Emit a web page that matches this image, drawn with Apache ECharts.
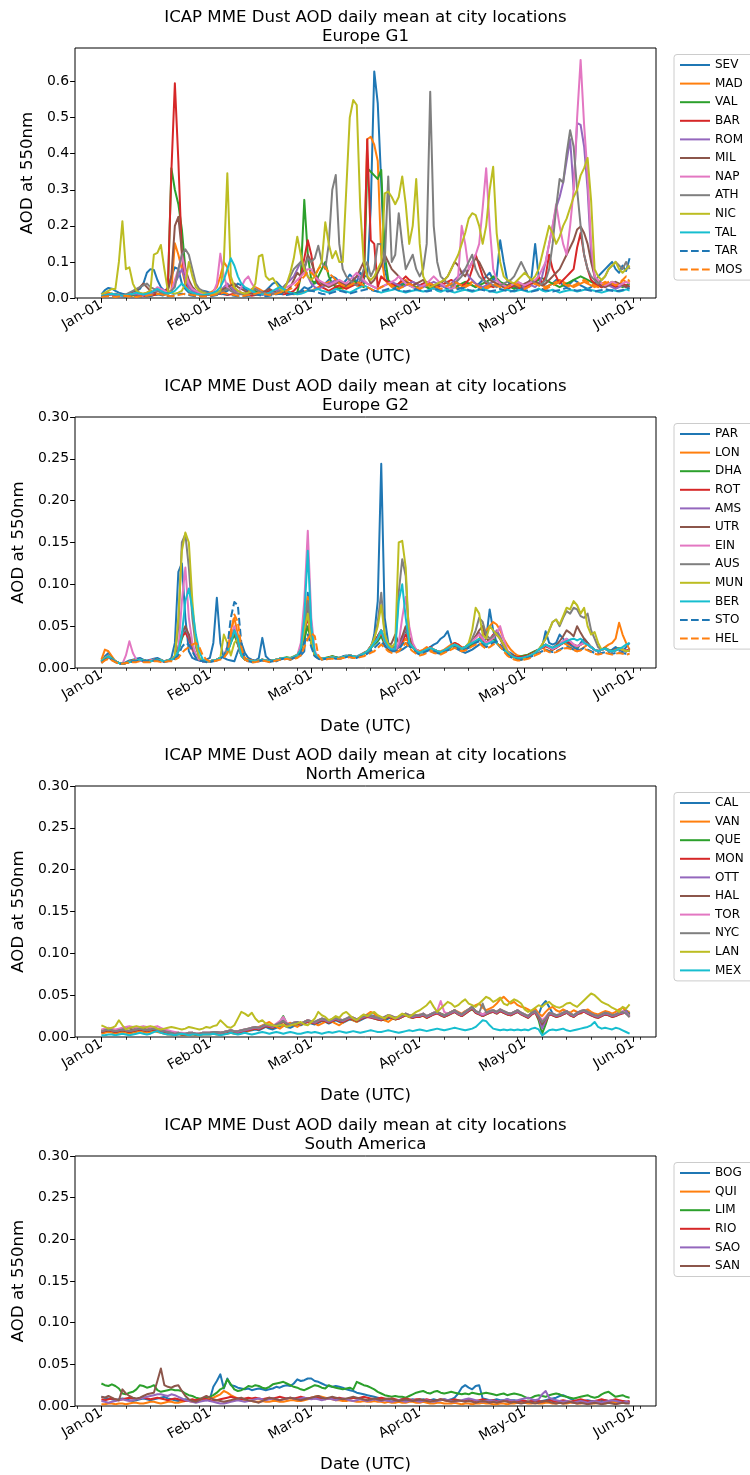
<!DOCTYPE html>
<html><head><meta charset="utf-8">
<script src="https://cdn.jsdelivr.net/npm/echarts@6/dist/echarts.min.js"></script>
<style>html,body{margin:0;padding:0;background:#fff}#c{width:750px;height:1475px}</style>
</head><body><div id="c"></div>
<script>
// x = day offset from 2024-01-01 (0 = Jan-01 ... 151 = May-31)
const monthStarts = [0, 31, 60, 91, 121, 152];
const monthLabels = ['Jan-01', 'Feb-01', 'Mar-01', 'Apr-01', 'May-01', 'Jun-01'];
const weekTicks = [-7, 0, 7, 14, 21, 28, 35, 42, 49, 56, 63, 70, 77, 84, 91, 98, 105, 112, 119, 126, 133, 140, 147, 154];
const yTicksG1 = [0, 0.1, 0.2, 0.3, 0.4, 0.5, 0.6];
const yTicksLow = [0, 0.05, 0.1, 0.15, 0.2, 0.25, 0.3];
const titleMain = 'ICAP MME Dust AOD daily mean at city locations';
const subtitles = ['Europe G1', 'Europe G2', 'North America', 'South America'];

// ---- Europe G1: AOD x 1000, one value per day (Jan..May) ----
const SEV = [10,22,28,26,20,15,12,10,12,15,20,25,40,70,80,78,50,30,20,25,60,85,80,40,25,15,12,10,15,20,18,
15,12,10,12,15,20,25,30,40,35,25,20,15,12,10,15,20,30,40,45,35,25,20,15,12,15,20,30,25,
30,45,40,35,40,50,60,55,45,40,50,65,55,45,70,60,60,250,628,540,320,80,40,35,30,35,40,45,40,35,30,
35,40,30,25,30,35,40,30,25,30,35,30,25,30,40,35,30,40,50,60,70,50,60,160,100,50,35,30,25,30,
35,40,60,150,60,40,30,35,40,50,45,35,30,40,50,45,35,30,25,30,40,60,70,80,90,100,80,70,90,75,110];
const MAD = [5,10,15,12,10,8,6,5,5,6,8,10,12,15,20,15,12,10,8,10,20,152,120,80,40,20,15,10,8,10,12,
15,20,30,60,100,85,40,25,20,15,12,18,25,30,25,20,15,12,10,12,15,18,15,12,10,12,15,18,20,
20,25,30,35,40,45,40,35,30,25,30,35,40,35,30,60,440,447,425,380,120,50,40,30,35,40,45,50,40,35,30,
30,35,40,30,25,30,35,40,45,35,30,25,30,35,40,45,40,35,30,25,30,35,40,35,30,25,30,35,40,35,
30,35,40,45,40,35,30,35,40,45,50,45,40,35,30,35,40,45,40,35,30,35,40,45,40,35,30,35,50,45,40];
const VAL = [5,8,10,12,10,8,6,5,6,8,10,12,10,8,6,8,10,12,15,20,360,300,260,190,80,40,30,20,15,12,10,
10,12,15,20,25,30,25,20,15,12,10,12,15,20,18,15,12,10,12,15,20,25,20,15,12,15,60,272,120,
50,40,60,80,100,60,40,30,25,30,35,40,50,40,35,30,360,350,340,330,355,120,50,40,35,30,35,40,35,30,30,
30,35,30,25,30,35,40,35,30,25,30,35,40,45,40,35,30,35,40,45,50,60,55,45,40,35,30,25,30,35,
30,35,40,45,50,55,50,45,40,35,30,35,40,45,50,55,60,55,50,45,40,35,30,35,40,45,40,35,30,35,40];
const BAR = [5,8,10,8,6,5,6,8,10,12,10,8,6,5,6,8,10,12,15,30,350,595,380,120,40,30,20,15,12,10,8,
10,12,15,12,10,8,10,12,15,12,10,8,6,8,10,12,15,20,18,15,12,10,12,15,20,30,60,110,160,
120,60,40,30,25,20,25,30,35,30,25,30,35,40,35,60,440,160,150,30,60,50,45,40,35,40,50,60,50,45,40,
35,40,45,40,35,30,35,40,45,50,45,40,35,40,50,80,120,90,60,40,35,30,35,40,30,25,30,35,30,25,
30,35,40,45,60,40,60,120,80,60,40,50,60,70,80,140,180,120,80,50,40,35,30,35,40,35,30,35,40,35,30];
const ROM = [5,6,8,10,8,6,5,6,8,10,12,10,8,10,12,15,20,25,20,15,20,40,60,80,50,30,20,15,12,10,8,
10,12,15,20,30,40,30,20,15,12,10,12,15,12,10,8,10,12,15,20,25,30,40,50,60,80,100,90,60,
40,30,25,30,35,40,45,50,45,40,35,40,50,60,50,45,40,35,30,25,30,35,40,45,40,35,30,35,40,45,40,
35,30,35,40,45,40,35,30,35,40,50,60,70,80,60,50,40,35,30,35,40,45,50,40,35,30,35,40,45,40,
25,30,35,30,40,60,100,150,200,250,280,320,380,440,300,485,480,420,300,120,60,40,35,30,35,30,25,30,35,30,25];
const MIL = [5,6,8,10,8,6,5,8,12,15,20,30,40,30,20,15,12,10,15,20,60,200,225,130,80,50,30,20,15,12,10,
10,12,15,20,25,30,35,40,30,25,20,15,12,10,12,15,20,25,20,15,12,15,20,30,50,70,60,80,120,
100,70,50,40,35,30,35,40,45,40,35,40,50,60,80,100,60,40,50,70,90,120,100,80,70,60,50,45,40,35,40,
45,50,40,35,30,35,40,50,60,80,100,90,70,60,80,100,110,100,80,60,50,45,40,35,30,35,40,35,30,35,
40,45,50,45,40,35,40,50,60,70,80,100,120,140,160,190,198,180,150,100,60,40,35,30,35,40,45,40,35,30,35];
const NAP = [5,8,10,8,6,5,6,8,10,12,15,12,10,12,15,20,30,25,20,15,20,50,80,120,70,40,25,20,15,12,10,
12,15,40,123,60,30,20,15,12,30,50,60,40,25,20,15,12,10,12,15,20,25,30,35,40,50,60,70,80,
80,60,50,45,40,35,40,45,50,45,40,50,60,70,60,50,40,35,30,25,30,35,40,45,50,60,50,40,35,30,25,
30,35,40,50,60,50,40,35,30,25,30,60,200,150,80,100,120,150,250,360,200,80,50,40,35,30,35,40,45,40,
35,40,45,50,60,80,100,150,200,260,200,150,120,200,300,500,660,480,340,150,60,50,40,35,40,45,40,35,40,45,40];
const ATH = [5,6,8,10,12,10,8,10,15,20,25,30,35,40,30,25,20,15,12,15,20,30,80,120,135,120,80,40,25,20,15,
12,10,12,15,20,25,20,15,12,10,12,15,20,25,20,15,12,10,12,15,20,30,40,60,80,90,100,80,110,
100,110,145,100,80,150,300,341,150,80,60,50,40,35,50,80,100,60,80,150,150,100,337,100,120,235,150,80,100,120,80,
60,80,150,572,200,100,60,50,40,35,40,50,60,80,100,120,80,60,50,45,40,35,30,35,40,45,50,60,80,100,
80,60,50,40,35,40,50,80,150,250,330,320,400,465,420,300,200,120,80,60,50,40,50,60,80,90,100,90,80,100,80];
const NIC = [10,15,20,25,25,100,213,80,85,40,20,15,12,15,20,120,125,147,80,20,15,12,15,20,40,100,60,30,20,15,12,
10,12,15,20,100,346,60,30,20,15,12,15,20,40,115,120,60,50,55,40,25,20,40,70,110,170,120,80,60,
50,60,80,100,210,150,110,130,100,100,300,500,549,535,250,100,60,50,60,80,100,290,295,280,260,280,337,260,150,200,330,
150,60,40,30,35,40,45,50,60,80,100,120,150,180,220,235,230,200,150,200,300,364,180,100,60,50,45,40,50,60,
70,60,50,60,80,120,160,200,180,150,170,200,220,250,280,300,340,360,388,270,80,60,50,60,80,90,100,80,70,80,90];
const TAL = [5,8,10,12,10,8,6,8,10,12,15,12,10,12,15,20,25,20,15,12,15,20,30,40,30,20,15,12,10,8,10,
12,15,20,30,50,80,110,90,60,40,30,25,20,15,12,10,12,15,20,25,30,25,20,15,12,10,12,15,20,
20,22,25,20,18,15,20,25,22,20,18,15,20,25,30,35,30,25,20,18,15,18,20,22,25,20,18,15,18,20,22,
20,18,20,24,27,20,17,21,23,18,15,18,21,23,20,17,20,23,26,22,19,17,15,18,21,23,20,18,21,23,
20,17,19,22,26,21,18,20,23,19,15,18,20,22,21,18,20,23,25,22,20,17,15,18,21,22,20,18,20,24,21];
const TAR = [3,5,6,5,4,3,4,5,6,5,4,3,4,5,6,8,10,8,6,5,6,8,10,12,10,8,6,5,4,5,6,
5,6,8,10,12,10,8,6,5,4,5,6,8,10,8,6,5,6,8,10,12,10,8,10,12,15,18,20,22,
20,18,15,12,10,12,15,18,20,18,15,12,15,18,20,22,25,22,20,18,20,22,25,28,25,22,20,18,20,22,25,
22,20,18,20,22,25,22,20,18,20,22,25,28,25,22,20,22,25,22,20,18,20,22,25,22,20,18,20,22,25,
22,20,18,20,22,25,22,20,18,20,22,25,28,25,22,20,22,25,22,20,18,20,22,25,22,20,18,20,22,25,28];
const MOS = [3,4,5,4,3,4,5,6,5,4,3,4,5,6,8,10,12,10,8,6,5,6,8,10,12,10,8,6,5,4,5,
6,8,10,12,15,12,10,8,6,5,6,8,10,12,15,12,10,8,10,12,15,18,20,25,30,40,50,60,75,
70,60,80,90,85,70,60,50,40,35,30,35,40,45,40,35,30,25,20,25,30,35,40,35,30,25,30,35,40,35,30,
25,30,35,40,35,30,25,30,35,40,45,40,35,30,35,40,35,30,25,30,35,40,35,30,25,30,35,40,35,30,
25,30,35,40,35,30,25,30,35,40,45,40,35,30,35,40,45,50,45,40,35,30,35,40,45,40,35,40,50,60,45];

// ---- Europe G2 ----
const PAR = [8,14,18,12,8,6,5,7,9,10,11,12,10,9,10,11,12,10,8,9,12,30,115,125,60,20,12,10,9,8,10,
12,30,84,30,12,10,9,8,20,30,18,12,10,9,12,36,14,10,9,8,10,12,11,10,12,14,15,20,90,
40,15,12,10,11,12,14,13,12,14,15,13,12,14,16,18,20,22,40,80,244,60,30,25,22,20,22,25,28,25,22,
20,18,22,25,28,30,35,38,44,30,25,22,20,18,20,22,25,28,30,35,70,45,30,25,22,20,18,15,12,12,
14,16,18,20,22,25,44,30,28,30,40,35,30,28,25,22,30,35,30,25,22,20,22,24,20,22,25,22,20,25,30];
const LON = [10,22,20,14,8,6,5,6,8,9,10,9,8,8,9,10,9,8,8,9,10,14,25,40,45,38,25,15,10,9,8,
8,9,10,12,15,20,45,60,40,20,12,10,9,8,9,10,9,8,9,10,11,12,12,10,12,15,25,60,85,
30,15,12,11,12,13,14,12,11,12,14,15,14,13,15,18,20,25,30,38,45,30,25,22,20,25,30,35,30,25,22,
20,22,25,22,20,18,20,22,25,28,30,28,25,22,25,28,30,35,40,45,50,55,52,45,35,28,22,18,15,14,
15,16,18,20,22,24,22,20,22,25,28,30,28,25,22,20,22,25,28,25,22,20,22,25,28,30,35,54,40,30,22];
const DHA = [8,12,15,12,8,6,5,6,7,8,9,10,9,8,8,9,10,9,8,9,10,12,20,35,45,40,25,15,10,8,8,
8,9,10,12,14,18,30,40,28,15,10,9,8,8,9,10,9,8,9,10,11,12,13,12,14,16,20,35,50,
30,15,12,11,12,13,14,13,12,13,14,15,14,13,15,17,20,24,28,32,38,28,22,20,22,26,35,45,35,25,20,
18,20,22,24,22,20,18,20,22,25,28,25,22,24,26,28,32,35,30,28,32,35,30,26,22,18,15,14,13,14,
15,16,18,20,22,25,28,25,22,25,28,30,32,30,28,25,28,30,28,25,22,20,22,24,22,20,22,24,22,20,22];
const ROT = [7,11,14,11,8,6,5,6,7,8,9,9,8,8,9,10,9,8,8,9,10,13,22,38,42,35,22,14,10,8,8,
8,9,10,12,14,20,32,45,30,16,10,9,8,8,9,10,9,8,9,10,11,12,12,11,13,15,22,45,60,
32,15,12,11,12,12,13,12,12,13,14,15,14,13,15,17,20,25,30,35,42,30,24,20,22,25,32,40,32,25,20,
18,20,22,25,22,20,19,21,23,26,30,28,24,25,28,32,38,40,34,30,34,40,42,35,26,20,16,14,13,13,
14,15,17,19,22,24,26,24,22,24,27,30,32,30,28,26,28,30,28,25,22,20,22,23,21,20,22,23,22,21,22];
const AMS = [7,12,14,11,8,6,5,6,7,8,9,10,9,8,8,9,10,9,8,9,10,14,25,40,48,38,24,14,10,8,8,
8,9,10,12,15,22,35,48,30,15,10,9,8,8,9,10,9,8,9,10,11,12,12,11,13,15,22,48,70,
35,15,12,11,12,12,13,12,12,13,14,15,14,13,15,17,20,26,32,38,45,32,25,22,22,25,35,48,35,25,20,
18,20,22,24,22,20,19,21,23,26,28,26,23,25,28,32,36,42,36,30,33,38,45,38,28,20,15,12,10,10,
12,14,16,18,22,25,28,25,23,25,28,32,35,32,28,26,28,32,28,25,22,20,22,23,21,20,21,23,22,20,21];
const UTR = [7,11,13,10,8,6,5,6,7,8,9,10,9,8,8,9,10,9,8,9,10,14,24,42,50,40,25,15,10,8,8,
8,9,10,12,15,22,34,46,30,15,10,9,8,8,9,10,9,8,9,10,11,12,12,11,13,15,22,50,70,
35,15,12,11,12,12,13,12,12,13,14,15,14,13,15,17,20,26,32,38,45,32,25,30,40,30,38,50,38,26,20,
18,20,22,24,22,20,19,21,23,26,28,26,23,25,28,32,38,45,50,35,32,36,40,35,28,20,15,12,10,10,
12,14,16,18,22,25,28,26,24,27,32,38,45,42,38,50,42,35,30,25,22,20,22,23,21,20,21,23,22,20,21];
const EIN = [8,12,15,11,8,6,5,15,32,18,10,9,8,8,9,10,9,8,8,9,10,14,20,80,120,60,30,15,10,8,8,
8,9,10,12,15,25,38,50,32,15,10,9,8,8,9,10,9,8,9,10,11,12,12,11,13,15,30,80,164,
60,20,13,11,12,12,13,12,12,13,14,15,14,13,15,17,20,25,30,35,45,32,25,22,22,30,60,85,50,30,22,
18,20,22,24,22,20,19,21,23,26,28,26,23,25,28,32,36,40,35,30,32,36,42,50,35,22,15,12,10,10,
12,14,16,18,22,25,28,25,23,25,28,32,35,32,28,26,28,30,28,25,22,20,22,23,21,20,21,23,22,20,21];
const AUS = [8,12,14,11,8,6,5,6,7,8,9,10,9,8,8,9,10,9,8,9,10,14,50,150,160,120,60,25,12,9,8,
8,9,10,12,15,22,35,45,30,15,10,9,8,8,9,10,9,8,9,10,11,12,12,11,13,15,22,50,80,
35,15,12,11,12,12,13,12,12,13,14,15,14,13,15,17,20,26,35,55,90,40,28,25,25,90,130,110,30,25,20,
18,20,22,24,22,20,19,21,23,26,28,26,23,25,28,35,45,60,55,40,35,38,42,35,28,20,15,12,10,10,
12,14,16,18,22,28,35,45,55,58,50,60,68,65,72,70,62,60,65,45,35,25,22,23,21,20,21,23,22,20,21];
const MUN = [8,12,14,11,8,6,5,6,7,8,9,10,9,8,8,9,10,9,8,9,10,14,60,140,162,150,80,30,12,9,8,
8,9,10,12,40,30,15,30,35,15,10,9,8,8,9,10,9,8,9,10,11,12,12,11,13,15,22,45,65,
30,15,12,11,12,12,13,12,12,13,14,15,14,13,15,17,20,25,35,50,75,40,28,25,30,150,152,120,30,25,20,
18,20,22,24,22,20,19,21,23,26,28,26,23,25,30,45,72,65,40,35,50,45,40,35,28,20,15,12,10,10,
12,14,16,18,22,28,35,45,55,58,52,62,72,70,80,75,65,72,50,40,43,30,22,23,21,20,21,23,22,20,21];
const BER = [8,11,14,11,8,6,5,6,7,8,9,10,9,8,8,9,10,9,8,9,10,12,20,40,80,95,70,40,20,10,8,
8,9,10,12,15,20,30,45,35,15,10,9,8,8,9,10,9,8,9,10,11,12,12,11,13,15,22,60,140,
50,18,12,11,12,12,13,12,12,13,14,15,14,13,15,17,20,24,30,35,45,32,25,22,22,80,100,60,30,25,20,
18,20,22,24,22,20,19,21,23,26,28,26,23,25,28,30,32,35,30,28,30,32,30,26,22,18,15,13,12,12,
13,14,16,18,22,25,28,26,24,26,28,30,32,34,35,33,35,30,28,25,22,20,22,23,21,20,21,23,25,28,30];
const STO = [6,10,12,10,7,5,5,6,7,8,8,9,8,8,8,9,9,8,7,8,9,11,15,25,30,28,20,12,9,8,7,
7,8,9,11,14,25,60,79,75,30,10,8,7,7,8,9,8,7,8,9,10,11,11,10,12,13,18,30,40,
25,14,11,10,11,11,12,11,11,12,13,14,13,12,14,15,17,20,24,28,32,26,22,20,20,22,28,32,26,22,18,
16,18,20,22,20,18,17,19,21,23,25,23,21,22,24,27,30,32,28,25,27,30,32,28,22,16,13,11,10,10,
11,12,14,16,18,20,22,20,19,20,22,24,25,24,22,21,22,24,22,20,18,17,18,19,18,17,18,19,18,17,18];
const HEL = [6,9,11,9,7,5,5,6,6,7,7,8,7,7,7,8,8,7,7,8,8,10,12,18,22,25,28,30,25,15,10,
8,8,9,10,12,18,40,64,55,25,10,8,7,7,8,9,8,7,8,9,10,10,11,10,11,12,15,25,35,
42,38,15,10,10,11,11,11,11,12,12,13,12,12,13,14,16,18,20,24,28,24,20,18,18,20,25,30,24,20,17,
15,16,18,20,18,17,16,18,20,22,24,22,20,21,23,26,28,30,26,23,25,28,30,26,20,15,12,10,9,9,
10,11,13,15,17,19,21,19,18,19,21,23,24,23,21,20,21,23,21,19,17,16,17,18,17,16,17,18,17,16,17];

// ---- North America ----
const CAL = [5,6,7,6,5,6,7,6,5,6,7,8,7,6,7,8,7,6,5,4,3,3,4,3,2,3,4,3,3,4,4,
4,5,4,3,4,5,6,5,4,5,6,7,8,9,8,10,12,10,9,11,13,14,12,11,13,15,14,16,18,
16,15,17,19,18,16,18,20,18,17,19,21,20,18,20,22,24,26,25,23,21,20,22,24,22,23,25,27,25,24,26,
25,27,24,26,28,30,27,25,27,29,31,28,26,29,32,34,30,28,26,28,30,31,29,32,30,28,27,29,31,28,
26,24,28,32,27,38,43,36,28,25,26,28,30,27,25,28,30,32,29,27,25,24,26,28,27,25,26,28,30,32,28];
const VAN = [4,5,6,5,4,5,6,5,4,5,6,7,6,5,6,7,6,5,4,3,3,2,3,3,2,2,3,2,2,3,3,
3,4,3,3,4,4,5,4,4,5,6,7,9,10,12,14,16,18,15,12,10,13,15,17,14,12,15,18,20,
18,16,14,16,18,20,18,16,14,17,20,22,20,18,21,24,27,30,28,24,22,20,18,21,23,22,24,27,25,23,25,
27,25,23,25,28,30,28,26,28,30,32,30,28,31,33,36,38,40,35,32,34,36,40,45,48,44,40,42,38,36,
35,33,30,34,28,25,30,34,36,32,30,33,31,29,32,30,28,31,33,30,28,27,29,31,30,28,30,33,35,31,30];
const QUE = [6,7,8,7,6,7,8,7,6,7,8,9,8,7,8,9,8,7,6,5,4,3,4,3,3,3,4,3,3,4,4,
4,5,5,4,5,6,7,6,5,6,7,8,9,10,9,11,13,12,11,14,18,25,16,14,15,16,15,17,19,
17,16,18,20,19,17,19,21,19,18,20,22,21,19,21,23,25,24,22,21,20,22,24,23,21,22,24,26,24,23,25,
24,26,23,25,27,29,26,24,26,28,30,27,25,28,31,33,29,27,25,27,29,30,28,31,29,27,26,28,30,27,
25,23,27,30,20,4,15,28,26,24,25,27,29,26,24,27,29,31,28,26,24,23,25,27,26,24,25,27,29,31,27];
const MON = [6,7,8,7,6,7,8,7,6,7,8,9,8,7,8,9,8,7,6,5,4,3,4,3,3,4,4,3,3,4,4,
4,5,5,4,5,6,7,6,5,6,7,8,9,10,9,11,13,12,11,13,15,18,15,14,15,16,15,17,18,
17,16,18,20,19,17,19,21,19,18,20,22,21,19,21,23,24,23,22,21,20,22,24,23,21,22,24,26,24,23,24,
24,26,23,25,27,28,26,24,26,28,30,27,25,28,31,34,29,27,25,27,29,30,28,31,29,27,26,28,30,27,
25,23,27,29,22,12,18,27,26,24,25,27,29,26,24,27,29,30,28,26,24,23,25,27,26,24,25,27,28,30,26];
const OTT = [7,8,9,8,7,8,9,8,7,8,9,10,9,8,9,10,9,8,7,6,5,4,5,4,4,4,5,4,4,5,5,
5,5,6,5,6,7,8,7,6,7,8,9,10,11,10,12,14,13,12,14,16,20,16,15,16,17,16,18,19,
18,17,19,21,20,18,20,22,20,19,21,23,22,20,22,24,25,24,23,22,21,23,25,24,22,23,25,27,25,24,25,
25,27,24,26,28,29,27,25,27,29,31,28,26,29,32,35,30,28,26,28,30,31,29,32,30,28,27,29,31,28,
26,24,28,30,24,10,20,28,27,25,26,28,30,27,25,28,30,31,29,27,25,24,26,28,27,25,26,28,29,31,25];
const HAL = [8,9,10,9,8,9,10,11,10,9,10,11,10,9,10,11,10,9,8,7,6,5,5,4,4,5,5,4,4,5,5,
5,6,6,5,6,7,8,7,7,8,9,10,11,12,11,13,15,14,13,15,17,19,16,15,17,18,16,18,20,
19,18,20,22,21,19,21,23,21,20,22,24,23,21,23,25,26,25,24,23,22,24,26,25,23,24,26,28,26,25,26,
26,28,25,27,29,30,28,26,28,30,32,29,27,30,33,36,31,29,27,29,31,32,30,33,31,29,28,30,32,29,
27,25,29,31,25,15,22,29,28,26,27,29,31,28,26,29,31,32,30,28,26,25,27,29,28,26,27,29,30,28,24];
const TOR = [9,10,11,10,9,10,11,12,13,12,11,12,13,12,11,12,13,11,9,8,7,6,5,5,4,5,5,4,4,5,5,
5,6,6,5,6,7,8,7,7,8,9,10,11,12,11,13,15,14,13,16,19,24,17,15,17,18,16,18,20,
19,18,20,22,21,19,21,23,22,20,22,24,23,21,23,25,26,25,24,23,22,24,26,25,23,24,26,28,26,25,26,
26,28,25,27,29,31,43,30,28,30,32,29,27,30,33,36,31,29,27,29,31,32,30,33,31,29,28,30,32,29,
27,25,29,31,26,20,24,29,28,26,27,29,31,28,26,29,31,32,30,28,26,25,27,29,28,26,27,29,31,28,25];
const NYC = [7,8,9,8,7,8,9,8,7,8,9,10,9,8,9,10,9,8,7,6,5,4,5,4,4,5,5,4,4,5,5,
5,6,6,5,6,7,8,7,7,8,9,10,11,12,11,13,15,14,13,15,17,19,16,15,17,18,16,18,20,
19,18,20,22,21,19,21,23,21,20,22,24,23,21,23,25,26,25,24,23,22,24,26,25,23,24,26,28,26,25,26,
26,28,25,27,29,30,28,26,28,30,32,29,27,30,33,36,31,29,40,29,31,32,30,33,31,29,28,30,32,29,
27,25,29,31,25,18,22,29,28,26,27,29,31,28,26,29,31,32,30,28,26,25,27,29,28,26,27,29,30,28,24];
const LAN = [14,12,10,11,13,20,14,9,11,12,13,12,11,12,13,12,10,9,10,11,12,11,10,9,10,12,11,10,9,10,12,
11,13,14,20,16,12,11,14,22,30,28,25,29,22,18,20,16,15,14,13,14,15,12,14,15,16,18,15,14,
18,22,30,26,24,20,22,25,23,28,30,26,22,20,24,27,25,28,30,26,24,22,26,24,22,25,28,26,24,27,30,
32,35,38,43,36,30,34,38,42,40,36,38,42,45,40,38,36,40,44,48,46,42,44,47,40,38,42,45,43,40,
33,30,32,35,38,36,40,42,38,36,35,37,40,41,38,36,40,44,48,52,50,46,42,40,38,35,33,30,36,34,39];
const MEX = [2,2,3,3,2,3,4,3,2,3,4,5,4,3,4,6,7,5,4,3,3,2,3,4,3,2,3,3,2,3,3,
3,4,3,2,3,4,5,4,3,4,5,4,3,4,5,6,5,4,5,6,5,4,5,6,5,4,4,5,6,
5,6,5,4,5,6,5,6,7,6,5,6,7,6,5,6,7,8,7,6,6,7,8,7,6,5,6,7,8,7,8,
9,8,7,8,9,10,9,8,9,10,11,10,9,8,9,10,12,16,20,19,14,10,9,8,9,8,9,8,9,8,
9,8,10,11,9,2,5,8,9,8,9,10,8,7,8,9,10,11,12,14,18,12,10,11,10,9,11,10,8,6,4];

// ---- South America ----
const BOG = [11,10,9,8,7,8,9,8,7,6,7,8,9,8,7,8,9,10,11,9,8,7,6,7,8,7,6,7,8,7,7,
8,23,30,38,21,33,25,24,22,21,20,21,19,20,21,20,19,20,21,23,22,24,25,24,27,32,30,31,33,
33,30,29,27,25,24,23,24,23,22,20,19,18,16,15,14,13,12,11,10,9,8,7,8,7,7,8,7,7,8,7,
7,8,7,7,8,7,7,8,7,8,10,15,22,25,22,20,24,25,9,8,7,7,8,7,7,8,7,7,6,6,
6,5,6,5,5,6,7,8,9,10,12,13,11,9,7,6,7,6,7,6,6,5,6,7,6,5,6,5,6,5,5];
const QUI = [2,2,3,3,2,3,3,2,3,4,4,3,3,4,5,5,4,3,4,5,5,4,4,5,6,6,5,5,6,7,8,
9,10,12,14,18,16,13,11,9,8,7,6,6,5,5,6,5,5,6,6,5,5,6,7,7,6,6,7,8,
10,11,12,11,10,9,8,7,7,6,6,7,6,5,5,6,5,5,6,5,5,4,5,4,4,5,4,4,5,5,4,
4,5,4,3,3,4,4,3,3,3,4,3,2,3,3,2,3,3,4,3,3,2,2,3,3,2,3,3,4,4,
4,3,3,4,3,3,4,4,3,3,4,3,3,4,4,3,3,4,4,3,3,4,4,3,4,5,4,4,5,4,4];
const LIM = [27,25,24,26,24,21,15,14,16,17,20,25,24,22,23,25,19,17,18,19,20,19,19,18,15,13,12,10,9,9,10,
11,13,16,20,22,32,26,20,18,19,21,24,23,25,24,22,21,23,26,27,28,29,27,25,23,22,20,19,21,
23,25,24,22,21,25,23,22,21,20,21,22,20,29,27,25,24,22,20,17,15,13,12,11,12,11,11,10,12,14,16,
17,18,16,15,17,18,16,15,16,17,16,15,14,15,14,16,15,14,15,16,15,14,13,14,15,13,14,15,14,13,
11,9,10,12,13,12,11,13,14,15,14,12,11,10,9,10,11,12,13,11,10,11,14,16,17,14,11,12,13,11,10];
const RIO = [8,7,8,9,8,7,8,9,10,9,8,9,10,9,8,9,10,9,8,7,8,9,8,7,6,7,8,7,8,9,8,
7,6,7,8,9,10,11,10,9,8,9,10,9,10,9,8,9,10,9,10,11,10,9,10,9,10,11,10,9,
10,9,10,9,8,9,10,9,10,9,8,9,10,9,10,11,10,9,8,9,10,9,8,9,8,7,8,9,8,7,8,
8,7,8,7,6,7,8,7,6,7,8,7,6,7,8,7,6,7,8,7,6,7,6,5,6,7,6,5,6,7,
6,5,6,7,6,5,6,7,6,5,6,7,6,5,6,7,8,7,6,5,6,7,8,7,6,7,8,7,6,5,6];
const SAO = [6,5,4,5,6,7,8,7,6,7,8,9,10,11,12,13,14,14,13,12,14,13,11,9,7,6,5,4,5,6,7,
6,5,4,3,3,4,5,6,7,6,5,6,7,8,9,8,7,8,9,8,7,8,9,10,9,8,9,10,9,
8,9,8,7,8,9,8,7,8,9,8,7,6,7,8,7,6,7,8,7,6,7,6,5,6,7,6,5,6,7,6,
5,6,7,6,5,6,7,8,7,6,5,6,7,8,9,8,7,6,5,6,7,6,5,6,7,8,7,6,7,8,
9,10,8,7,8,14,18,10,8,7,6,5,6,5,4,5,6,5,4,5,6,5,4,5,6,7,6,5,4,5,4];
const SAN = [11,10,12,10,8,7,20,15,12,10,9,10,12,14,15,16,30,45,25,23,22,24,25,18,12,8,6,5,7,10,12,
10,8,7,6,5,6,7,8,9,10,8,7,6,5,4,6,8,10,9,8,7,8,9,10,9,8,7,8,9,
10,11,12,10,9,10,11,10,9,8,9,10,11,10,9,8,7,8,9,8,7,8,9,8,7,6,7,8,7,6,7,
8,7,6,5,6,7,8,7,6,5,6,7,6,5,6,5,4,5,6,5,4,5,4,5,6,5,4,5,4,3,
4,5,4,3,4,5,6,5,4,3,4,3,4,5,4,3,4,3,2,3,4,3,2,3,4,3,2,3,4,3,3];

const namesG1 = ['SEV','MAD','VAL','BAR','ROM','MIL','NAP','ATH','NIC','TAL','TAR','MOS'];
const valuesG1 = [SEV,MAD,VAL,BAR,ROM,MIL,NAP,ATH,NIC,TAL,TAR,MOS];
const namesG2 = ['PAR','LON','DHA','ROT','AMS','UTR','EIN','AUS','MUN','BER','STO','HEL'];
const valuesG2 = [PAR,LON,DHA,ROT,AMS,UTR,EIN,AUS,MUN,BER,STO,HEL];
const namesNA = ['CAL','VAN','QUE','MON','OTT','HAL','TOR','NYC','LAN','MEX'];
const valuesNA = [CAL,VAN,QUE,MON,OTT,HAL,TOR,NYC,LAN,MEX];
const namesSA = ['BOG','QUI','LIM','RIO','SAO','SAN'];
const valuesSA = [BOG,QUI,LIM,RIO,SAO,SAN];

// ---------- styling / layout ----------
const FONT = 'DejaVu Sans';
const tab = ['#1f77b4','#ff7f0e','#2ca02c','#d62728','#9467bd','#8c564b','#e377c2','#7f7f7f','#bcbd22','#17becf'];
const panels = [
  {names: namesG1, values: valuesG1, yMax: 0.693, ticks: yTicksG1, digits: 1, top: 48, height: 250, nameGap: 37},
  {names: namesG2, values: valuesG2, yMax: 0.3, ticks: yTicksLow, digits: 2, top: 417, height: 251, nameGap: 46},
  {names: namesNA, values: valuesNA, yMax: 0.3, ticks: yTicksLow, digits: 2, top: 786, height: 251, nameGap: 46},
  {names: namesSA, values: valuesSA, yMax: 0.3, ticks: yTicksLow, digits: 2, top: 1156, height: 250, nameGap: 46}
];
const GL = 75, GW = 581, XMIN = -7.55, XMAX = 158.55;

const grid = [], xAxis = [], yAxis = [], series = [], legend = [], graphic = [];
panels.forEach((p, i) => {
  grid.push({left: GL, width: GW, top: p.top, height: p.height, show: true, borderColor: '#000', borderWidth: 1,
             backgroundColor: 'transparent', containLabel: false, outerBoundsMode: 'none'});
  xAxis.push({gridIndex: i, type: 'value', min: XMIN, max: XMAX, position: 'bottom',
    name: 'Date (UTC)', nameLocation: 'middle', nameGap: 50,
    nameTextStyle: {fontFamily: FONT, fontSize: 16.6, color: '#000', verticalAlign: 'top'},
    axisLine: {show: false, onZero: false}, splitLine: {show: false},
    axisTick: {show: true, customValues: monthStarts, length: 4.9, lineStyle: {color: '#000', width: 1}},
    axisLabel: {show: true, customValues: monthStarts, rotate: 30, margin: 6, fontFamily: FONT, fontSize: 13.9, color: '#000',
      formatter: v => monthLabels[monthStarts.indexOf(Math.round(v))] || ''}});
  xAxis.push({gridIndex: i, type: 'value', min: XMIN, max: XMAX, position: 'bottom', offset: 0,
    axisLine: {show: false, onZero: false}, splitLine: {show: false}, axisLabel: {show: false},
    axisTick: {show: true, customValues: weekTicks, length: 2.8, lineStyle: {color: '#000', width: 0.8}}});
  yAxis.push({gridIndex: i, type: 'value', min: 0, max: p.yMax, position: 'left',
    name: 'AOD at 550nm', nameLocation: 'middle', nameGap: p.nameGap, nameRotate: 90,
    nameTextStyle: {fontFamily: FONT, fontSize: 16.6, color: '#000'},
    axisLine: {show: false, onZero: false}, splitLine: {show: false},
    axisTick: {show: true, customValues: p.ticks, length: 4.9, lineStyle: {color: '#000', width: 1}},
    axisLabel: {show: true, customValues: p.ticks, margin: 6, fontFamily: FONT, fontSize: 13.9, color: '#000',
      formatter: v => Number(v).toFixed(p.digits)}});
  p.names.forEach((nm, k) => {
    const dashed = k >= 10;
    const color = tab[k % 10];
    series.push({name: nm, type: 'line', xAxisIndex: 2 * i, yAxisIndex: i,
      data: p.values[k].map((v, d) => [d, v / 1000]),
      symbol: 'none', silent: true, animation: false, clip: true,
      lineStyle: {color: color, width: 2, type: dashed ? [7.7, 3.3] : 'solid', join: 'round'},
      itemStyle: {color: color}, emphasis: {disabled: true}});
  });
  legend.push({data: p.names, orient: 'vertical', left: 674, top: p.top + 6.5,
    padding: [4.5, 40, 4.5, 5], itemWidth: 30, itemHeight: 12, itemGap: 6.6,
    itemStyle: {opacity: 0, borderWidth: 0},
    borderColor: '#cccccc', borderWidth: 1, borderRadius: 3, backgroundColor: 'rgba(255,255,255,0.8)',
    selectedMode: false, textStyle: {fontFamily: FONT, fontSize: 12, color: '#000'}});
  graphic.push({type: 'text', x: 365.5, y: p.top - 30,
    style: {text: titleMain, fontFamily: FONT, fontSize: 16.6, fill: '#000', align: 'center', verticalAlign: 'middle'}});
  graphic.push({type: 'text', x: 365.5, y: p.top - 11,
    style: {text: subtitles[i], fontFamily: FONT, fontSize: 16.6, fill: '#000', align: 'center', verticalAlign: 'middle'}});
});

const chart = echarts.init(document.getElementById('c'), null, {renderer: 'canvas', width: 750, height: 1475});
chart.setOption({animation: false, backgroundColor: '#fff', grid, xAxis, yAxis, series, legend, graphic});
</script></body></html>
